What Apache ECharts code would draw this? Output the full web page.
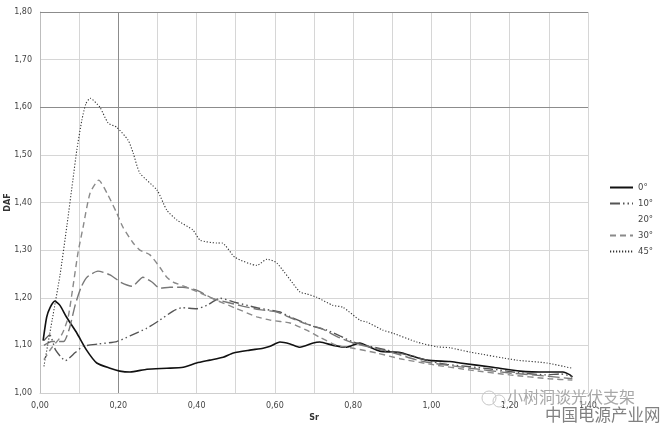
<!DOCTYPE html>
<html>
<head>
<meta charset="utf-8">
<script src="https://cdn.jsdelivr.net/npm/echarts@6/dist/echarts.min.js"></script>
<style>html,body{margin:0;padding:0;background:#fff}#c{width:662px;height:427px}</style>
</head>
<body>
<div id="c"></div>
<script>
const seriesNames = ['0°', '10°', '20°', '30°', '45°'];
const xTicks = [0, 0.2, 0.4, 0.6, 0.8, 1.0, 1.2, 1.4];

const deg0 = [[0.008,1.11],[0.017,1.159],[0.026,1.18],[0.038,1.193],[0.051,1.184],[0.068,1.159],[0.094,1.126],[0.119,1.09],[0.145,1.063],[0.179,1.052],[0.204,1.046],[0.23,1.044],[0.273,1.05],[0.324,1.052],[0.366,1.054],[0.40,1.063],[0.434,1.069],[0.468,1.075],[0.494,1.084],[0.536,1.09],[0.57,1.094],[0.588,1.098],[0.613,1.107],[0.639,1.103],[0.664,1.096],[0.698,1.105],[0.715,1.107],[0.749,1.10],[0.783,1.096],[0.817,1.105],[0.843,1.096],[0.868,1.088],[0.92,1.085],[0.953,1.077],[0.988,1.069],[1.047,1.066],[1.073,1.063],[1.157,1.054],[1.226,1.046],[1.295,1.044],[1.336,1.044],[1.354,1.038],[1.36,1.033]];

const deg10 = [[0.01,1.11],[0.025,1.122],[0.04,1.09],[0.065,1.068],[0.09,1.085],[0.11,1.098],[0.15,1.103],[0.196,1.108],[0.23,1.12],[0.273,1.136],[0.306,1.153],[0.34,1.172],[0.362,1.179],[0.40,1.177],[0.426,1.184],[0.46,1.199],[0.5,1.19],[0.56,1.178],[0.613,1.17],[0.639,1.16],[0.698,1.14],[0.733,1.132],[0.766,1.12],[0.80,1.107],[0.843,1.098],[0.886,1.09],[0.963,1.075],[1.005,1.065],[1.04,1.06],[1.1,1.055],[1.157,1.05],[1.22,1.043],[1.295,1.038],[1.33,1.04],[1.36,1.035]];

const deg20 = [[0.01,1.10],[0.03,1.108],[0.06,1.108],[0.075,1.135],[0.09,1.185],[0.105,1.222],[0.12,1.243],[0.148,1.256],[0.179,1.248],[0.209,1.231],[0.235,1.224],[0.263,1.243],[0.286,1.233],[0.306,1.22],[0.332,1.222],[0.365,1.222],[0.40,1.216],[0.443,1.198],[0.48,1.19],[0.52,1.182],[0.56,1.175],[0.605,1.17],[0.64,1.158],[0.68,1.145],[0.72,1.135],[0.76,1.118],[0.80,1.105],[0.85,1.095],[0.9,1.085],[0.96,1.07],[1.0,1.063],[1.1,1.052],[1.2,1.042],[1.3,1.035],[1.36,1.03]];

const deg30 = [[0.01,1.07],[0.03,1.095],[0.05,1.115],[0.06,1.13],[0.072,1.159],[0.084,1.222],[0.097,1.294],[0.11,1.348],[0.128,1.42],[0.15,1.447],[0.171,1.42],[0.196,1.378],[0.212,1.348],[0.238,1.315],[0.255,1.30],[0.281,1.29],[0.306,1.264],[0.324,1.243],[0.34,1.233],[0.375,1.222],[0.409,1.21],[0.45,1.195],[0.5,1.178],[0.554,1.16],[0.588,1.153],[0.639,1.147],[0.681,1.132],[0.715,1.117],[0.758,1.10],[0.80,1.094],[0.86,1.084],[0.92,1.072],[1.0,1.06],[1.1,1.048],[1.2,1.038],[1.3,1.03],[1.36,1.027]];

const deg45 = [[0.01,1.056],[0.031,1.153],[0.051,1.247],[0.069,1.353],[0.084,1.447],[0.094,1.51],[0.107,1.573],[0.117,1.607],[0.128,1.619],[0.153,1.60],[0.174,1.567],[0.196,1.558],[0.225,1.531],[0.238,1.504],[0.255,1.462],[0.299,1.426],[0.324,1.384],[0.35,1.363],[0.391,1.342],[0.409,1.321],[0.452,1.315],[0.465,1.315],[0.498,1.285],[0.554,1.268],[0.58,1.281],[0.605,1.273],[0.664,1.212],[0.682,1.208],[0.707,1.201],[0.748,1.184],[0.774,1.18],[0.817,1.153],[0.835,1.149],[0.876,1.132],[0.90,1.126],[0.963,1.107],[1.014,1.097],[1.047,1.095],[1.098,1.086],[1.218,1.069],[1.295,1.063],[1.359,1.052]];

const allData = [deg0, deg10, deg20, deg30, deg45];
const styles = [
  {color:'#111', width:1.6, type:'solid'},
  {color:'#555', width:1.4, type:[10,3,1.5,3,1.5,3]},
  {color:'#777', width:1.4, type:[12,4]},
  {color:'#8a8a8a', width:1.4, type:[6,4]},
  {color:'#333', width:1.1, type:[1.2,1.8]}
];
const fmt = v => v.toFixed(2).replace('.', ',');

const chart = echarts.init(document.getElementById('c'), null, {renderer:'canvas'});
const series = seriesNames.map((n,i) => ({
  name: n, type: 'line', data: allData[i], symbol: 'none', smooth: 0.2,
  lineStyle: styles[i], itemStyle: {color: styles[i].color}, z: 3
}));
series[0].markLine = {
  silent: true, symbol: 'none', label: {show:false},
  lineStyle: {color:'#8c8c8c', width:1, type:'solid'},
  data: [{yAxis:1.6},{yAxis:1.8},{xAxis:0.2}], z: 1
};
chart.setOption({
  animation: false,
  backgroundColor: '#fff',
  textStyle: {fontFamily: 'DejaVu Sans'},
  grid: {left:40, right:74, top:12, bottom:34, containLabel:false, outerBoundsMode:'none'},
  legend: {
    orient: 'vertical', left: 604, top: 178,
    itemWidth: 23, itemHeight: 8, itemGap: 7,
    itemStyle: {opacity: 0},
    textStyle: {fontSize: 8.5, color:'#444', fontFamily:'DejaVu Sans'},
    data: seriesNames.map(n => n === '20°' ? {name:n, itemStyle:{opacity:0}, lineStyle:{opacity:0}} : {name:n})
  },
  xAxis: {
    type: 'value', min: 0, max: 1.4, interval: 0.1,
    name: 'Sr', nameLocation: 'middle', nameGap: 21, nameMoveOverlap: false,
    nameTextStyle: {fontSize: 8, fontWeight:'bold', color:'#333'},
    axisLine: {show:true, lineStyle:{color:'#cfcfcf'}},
    axisTick: {show:false},
    axisLabel: {fontSize: 8, color:'#444', margin: 9,
      formatter: v => (Math.round(v*10) % 2 === 0 && xTicks.some(t => Math.abs(t-v) < 1e-6)) ? fmt(v) : ''},
    splitLine: {show:true, lineStyle:{color:'#d6d6d6', width:1}}
  },
  yAxis: {
    type: 'value', min: 1, max: 1.8, interval: 0.1,
    name: 'DAF', nameLocation: 'middle', nameGap: 28, nameRotate: 90, nameMoveOverlap: false,
    nameTextStyle: {fontSize: 8, fontWeight:'bold', color:'#333'},
    axisLine: {show:true, lineStyle:{color:'#bdbdbd'}},
    axisTick: {show:false},
    axisLabel: {fontSize: 8, color:'#444', margin: 8, formatter: v => fmt(v)},
    splitLine: {show:true, lineStyle:{color:'#d6d6d6', width:1}}
  },
  graphic: [
    {type:'circle', shape:{cx:489, cy:398, r:7}, style:{fill:'none', stroke:'#c8c8c8', lineWidth:1}, z:10},
    {type:'circle', shape:{cx:499, cy:401, r:6}, style:{fill:'none', stroke:'#c8c8c8', lineWidth:1}, z:10},
    {type:'text', left:507, top:389, style:{text:'小树洞谈光伏支架', fontSize:16, fill:'#a8a8a8', fontFamily:'Noto Sans CJK SC'}, z:10},
    {type:'text', left:545, top:406, style:{text:'中国电源产业网', fontSize:16.5, fill:'#808080', fontFamily:'Noto Sans CJK SC'}, z:10}
  ],
  series: series
});
</script>
</body>
</html>
